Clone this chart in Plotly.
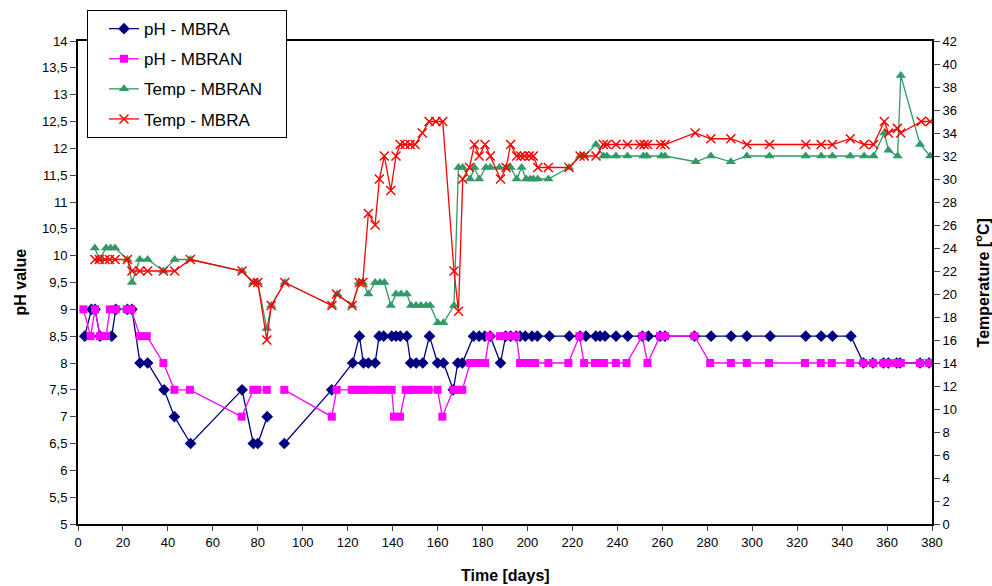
import plotly.graph_objects as go

# ---- data ----
ph_mbra_days = [3, 6, 7.6, 9.8, 15, 16.8, 22, 24, 27.6, 31, 38.3, 42.9, 50.1, 73, 78, 80, 84.2, None,
                91.8, 112.9, 122.2, 125.2, 127, 129.2, 132.2, 134, 136, 139.6, 141.5, 143.4, 146.3, 148,
                150.5, 153.4, 156.4, 160, 162.6, 167, 169, 171, 176, 178.5, 181, 183.4, 188, 190.3, 192.5,
                195, 196.7, 199, 202, 204.4, 209.8, 218.6, 223.4, 226, 230.4, 232.3, 234.5, 239.4, 244.6,
                251.1, 253.8, 259, 261.2, 274.3, 281.7, 290.6, 297.6, 308, 323.8, 330.7, 335.7, 343.9,
                349.5, 353.7, 358.4, 360.6, 364.3, 365.8, 374.7, 378.7]
ph_mbra = [8.5, 9, 9, 8.5, 8.5, 9, 9, 9, 8, 8, 7.5, 7, 6.5, 7.5, 6.5, 6.5, 7.0, None,
           6.5, 7.5, 8, 8.5, 8, 8, 8, 8.5, 8.5, 8.5, 8.5, 8.5, 8.5, 8,
           8, 8, 8.5, 8, 8, 7.5, 8, 8, 8.5, 8.5, 8.5, 8.5, 8, 8.5, 8.5,
           8.5, 8.5, 8.5, 8.5, 8.5, 8.5, 8.5, 8.5, 8.5, 8.5, 8.5, 8.5, 8.5, 8.5,
           8.5, 8.5, 8.5, 8.5, 8.5, 8.5, 8.5, 8.5, 8.5, 8.5, 8.5, 8.5, 8.5,
           8, 8, 8, 8, 8, 8, 8, 8]

ph_mbran_days = [2.4, 5.6, 7.6, 9.8, 12.5, 14.2, 16.8, 21.7, 23.6, 27.6, 30.6, 38, 42.9, 49.8, 72.8, 78,
                 79.8, 84, None, 91.8, 112.9, 115.1, 121.8, 124, 125.5, 127.3, 129.2, 132.2, 134.4, 137.4,
                 139.6, 140.6, 143.3, 145.8, 148, 150, 153, 156, 160, 162.1, 167, 169, 171, 174.5, 176.7,
                 178.9, 181.1, 183, 187.8, 190, 192.3, 195, 196.7, 199, 201, 203.4, 209.3, 218.2, 223.1,
                 225.2, 230, 232.3, 234, 239.3, 244.1, 251.1, 253.4, 259, 261.2, 274.3, 281.3, 290.5,
                 297.6, 307.5, 323.5, 330.5, 335.4, 343.6, 349.5, 353.7, 358.4, 360.6, 364.3, 366.1,
                 374.7, 378.7]
ph_mbran = [9, 8.5, 9, 8.5, 8.5, 9, 9, 9, 9, 8.5, 8.5, 8, 7.5, 7.5, 7, 7.5,
            7.5, 7.5, None, 7.5, 7, 7.5, 7.5, 7.5, 7.5, 7.5, 7.5, 7.5, 7.5, 7.5,
            7.5, 7, 7, 7.5, 7.5, 7.5, 7.5, 7.5, 7.5, 7, 7.5, 7.5, 7.5, 8, 8,
            8, 8, 8.5, 8.5, 8.5, 8.5, 8.5, 8, 8, 8, 8, 8, 8, 8.5,
            8, 8, 8, 8, 8, 8, 8.5, 8, 8.5, 8.5, 8.5, 8, 8,
            8, 8, 8, 8, 8, 8, 8, 8, 8, 8, 8, 8,
            8, 8]

temp_mbran_days = [7.5, 9.5, 12.5, 14.5, 16.5, 22, 24, 27.5, 31, 38, 43, 50, 73, 78, 80, 84, 86, 92,
                   113, 115.4, 122, 125, 126.7, 129.2, 132.2, 134.4, 136.3, 139.2, 141.5, 143.7, 146.3,
                   148.2, 150.4, 152.6, 154.9, 156.7, 160.1, 162.6, 167.3, 169.3, 171.2, 174.5, 176.4,
                   178.5, 181.5, 183.5, 187.5, 190.5, 192.5, 195.2, 197.4, 199.4, 201.2, 202.6, 204.6,
                   209.3, 218.5, 223.4, 225.3, 230.5, 233.8, 235.3, 239.4, 244.5, 251.6, 253.1, 259.6,
                   261.2, 274.9, 281.6, 290.5, 297.6, 307.7, 323.8, 330.7, 335.7, 343.6, 349.8, 354,
                   358.8, 360.6, 364.7, 366.1, 374.7, 379.2]
temp_mbran = [24, 23, 24, 24, 24, 23, 21, 23, 23, 22, 23, 23, 22, 21, 21, 17, 19, 21,
              19, 20, 19, 21, 21, 20, 21, 21, 21, 19, 20, 20, 20,
              19, 19, 19, 19, 19, 17.5, 17.5, 19, 31, 31, 30, 31,
              30, 31, 31, 31, 31, 31, 30, 31, 30, 30, 30, 30,
              30, 31, 32, 32, 33, 32, 32, 32, 32, 32, 32, 32,
              32, 31.5, 32, 31.5, 32, 32, 32, 32, 32, 32, 32, 32,
              34, 32.5, 32, 39, 33, 32]

temp_mbra_days = [7.5, 9.5, 12, 14, 16.5, 22, 24, 27.5, 31, 38, 43, 50, 73, 78, 80, 84, 86, 92,
                  113, 115, 122, 125.2, 126.7, 129.2, 132.2, 134.1, 136.3, 139.2, 141.5, 143.3, 145.5,
                  147.8, 150, 153.2, 156.2, 159.2, 162.3, 167.3, 169.3, 171.2, 174.2, 176.4, 178.5,
                  181.1, 183.5, 188, 190.5, 192.5, 195.2, 197, 198.6, 200.8, 202.6, 204.6, 209.3, 218.5,
                  223.4, 225.3, 230.5, 233.8, 235.3, 239.4, 244.5, 250.1, 251.9, 253.4, 259.3, 261.2,
                  274.6, 281.6, 290.5, 297.6, 307.7, 323.8, 330.7, 335.7, 343.6, 349.8, 354, 358.8,
                  360.6, 364.6, 366.1, 375.2, 379.2]
temp_mbra = [23, 23, 23, 23, 23, 23, 22, 22, 22, 22, 22, 23, 22, 21, 21, 16, 19, 21,
             19, 20, 19, 21, 21, 27, 26, 30, 32, 29, 32, 33, 33,
             33, 33, 34, 35, 35, 35, 22, 18.5, 30, 31, 33, 32,
             33, 32, 30, 31, 33, 32, 32, 32, 32, 32, 31, 31, 31,
             32, 32, 32, 33, 33, 33, 33, 33, 33, 33, 33, 33,
             34, 33.5, 33.5, 33, 33, 33, 33, 33, 33.5, 33, 33, 35,
             34, 34.4, 34, 35, 35]

x_ticks = list(range(0, 381, 20))

# ---- figure ----
fig = go.Figure()

fig.add_trace(go.Scatter(x=ph_mbra_days, y=ph_mbra, name="pH - MBRA", legendgroup="a",
                         mode="lines+markers", connectgaps=False,
                         line=dict(color="#000080", width=1.3),
                         marker=dict(symbol="diamond", size=9, color="#000080")))
fig.add_trace(go.Scatter(x=ph_mbran_days, y=ph_mbran, name="pH - MBRAN", legendgroup="b",
                         mode="lines+markers", connectgaps=False,
                         line=dict(color="#FF00FF", width=1.3),
                         marker=dict(symbol="square", size=8, color="#FF00FF")))
fig.add_trace(go.Scatter(x=temp_mbran_days, y=temp_mbran, name="Temp - MBRAN\u00a0\u00a0\u00a0\u00a0",
                         legendgroup="c", mode="lines+markers", yaxis="y2",
                         line=dict(color="#339966", width=1.3),
                         marker=dict(symbol="triangle-up", size=9, color="#339966")))
fig.add_trace(go.Scatter(x=temp_mbra_days, y=temp_mbra, name="Temp - MBRA", legendgroup="d",
                         mode="lines+markers", yaxis="y2",
                         line=dict(color="#FF0000", width=1.3),
                         marker=dict(symbol="x-thin", size=9, color="#FF0000",
                                     line=dict(color="#FF0000", width=1.5))))

axis_font = dict(family="Liberation Sans, Arial, sans-serif", size=13, color="black")

fig.update_layout(
    width=992, height=586,
    margin=dict(l=78, r=60, t=41, b=62, autoexpand=False),
    paper_bgcolor="white", plot_bgcolor="white",
    separators=",.",
    font=dict(family="Liberation Sans, Arial, sans-serif", color="black"),
    showlegend=True,
    legend=dict(x=0.0105, y=1.064, xanchor="left", yanchor="top",
                bgcolor="white", bordercolor="black", borderwidth=1,
                font=dict(size=17, family="Liberation Sans, Arial, sans-serif"),
                tracegroupgap=5, itemwidth=30, indentation=16),
    xaxis=dict(range=[0, 380], tickvals=x_ticks, ticks="outside", ticklen=5,
               showline=True, linecolor="black", linewidth=2, mirror=True,
               showgrid=False, zeroline=False, tickfont=axis_font),
    yaxis=dict(range=[5, 14], dtick=0.5, tick0=5, ticks="outside", ticklen=6,
               showline=True, linecolor="black", linewidth=2,
               showgrid=False, zeroline=False, tickfont=axis_font),
    yaxis2=dict(range=[0, 42], dtick=2, tick0=0, overlaying="y", side="right",
                ticks="outside", ticklen=6, showline=True, linecolor="black", linewidth=2,
                showgrid=False, zeroline=False, tickfont=axis_font),
    annotations=[
        dict(text="<b>Time [days]</b>", xref="paper", yref="paper", x=0.5, y=-0.107,
             xanchor="center", yanchor="middle", showarrow=False, font=dict(size=16)),
        dict(text="<b>pH value</b>", xref="paper", yref="paper", x=-0.0679, y=0.5,
             xanchor="center", yanchor="middle", showarrow=False, textangle=-90,
             font=dict(size=16)),
        dict(text="<b>Temperature [<sup>o</sup>C]</b>", xref="paper", yref="paper", x=1.0585, y=0.5,
             xanchor="center", yanchor="middle", showarrow=False, textangle=-90,
             font=dict(size=16)),
    ],
)

fig.write_html("out.html", config={"displayModeBar": False},
               post_script="document.body.style.margin='0';")
